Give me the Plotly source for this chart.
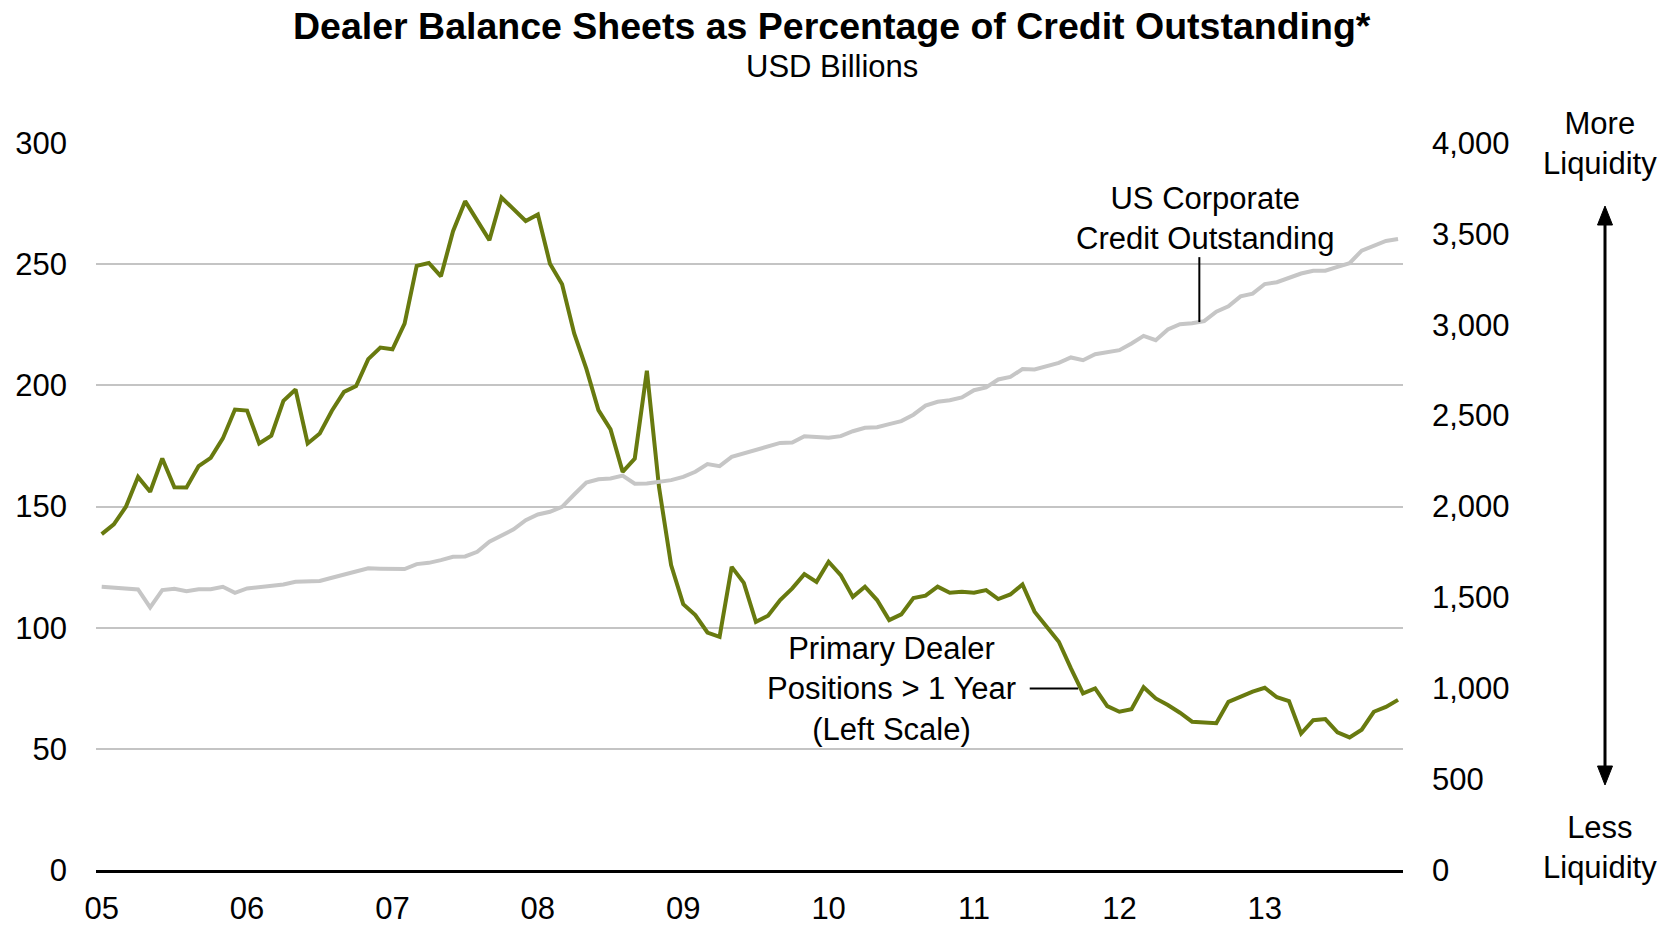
import pandas as pd
import plotly.graph_objects as go

# Monthly observations, Jan 2005 - Dec 2013
months = [d.strftime("%Y-%m") for d in pd.date_range("2005-01-01", "2013-12-01", freq="MS")]

# Primary dealer positions > 1 year (USD bn, left scale)
dealer_positions = [
    138.6, 142.6, 149.9, 162.2, 156.1, 169.8, 157.9, 157.8, 166.7, 170.1, 178.1, 190.0,
    189.6, 176.0, 179.2, 193.6, 198.3, 176.0, 180.1, 189.5, 197.3, 199.7, 210.8, 215.6,
    214.9, 225.5, 249.3, 250.5, 245.0, 263.6, 276.0, 268.1, 259.9, 277.5, 272.9, 267.8,
    270.5, 250.2, 241.7, 221.4, 206.9, 189.8, 181.8, 164.3, 169.8, 206.0, 158.0, 125.8,
    109.7, 105.2, 98.0, 96.2, 125.1, 118.5, 102.4, 104.9, 111.4, 116.2, 122.1, 118.9,
    127.2, 121.7, 112.7, 116.9, 111.4, 103.1, 105.5, 112.2, 113.2, 116.9, 114.4, 114.8,
    114.4, 115.5, 111.8, 113.7, 117.8, 106.6, 100.4, 94.2, 83.2, 72.9, 74.9, 67.6,
    65.3, 66.3, 75.4, 70.8, 68.1, 64.9, 61.2, 61.0, 60.6, 69.4, 71.6, 73.6,
    75.2, 71.3, 69.7, 56.3, 61.8, 62.3, 56.8, 54.7, 57.9, 65.3, 67.3, 70.2,
]

# US corporate credit outstanding (USD bn, right scale)
credit_outstanding = [
    1558, 1553, 1551, 1544, 1445, 1540, 1547, 1534, 1545, 1545, 1558, 1525,
    1549, 1555, 1564, 1571, 1586, 1586, 1590, 1608, 1626, 1641, 1660, 1658,
    1657, 1656, 1683, 1690, 1705, 1723, 1725, 1751, 1806, 1842, 1874, 1925,
    1956, 1971, 1998, 2066, 2132, 2150, 2154, 2170, 2125, 2127, 2136, 2145,
    2163, 2191, 2233, 2222, 2273, 2292, 2310, 2328, 2350, 2352, 2387, 2383,
    2378, 2387, 2414, 2433, 2436, 2453, 2470, 2505, 2555, 2576, 2585, 2600,
    2640, 2655, 2699, 2713, 2756, 2754, 2772, 2790, 2820, 2805, 2838, 2849,
    2860, 2897, 2939, 2915, 2974, 3003, 3008, 3020, 3072, 3101, 3156, 3171,
    3224, 3234, 3259, 3282, 3297, 3297, 3318, 3339, 3408, 3434, 3461, 3472,
]

year_ticks = [m for m in months if m.endswith("-01")]
year_labels = [m[2:4] for m in year_ticks]

left_ticks = [0, 50, 100, 150, 200, 250, 300]
right_ticks = [0, 500, 1000, 1500, 2000, 2500, 3000, 3500, 4000]

FONT = "Liberation Sans, Arial, Helvetica, sans-serif"
GREEN = "#687a0f"
GREY = "#c6c6c6"

# plot-area geometry (pixels) used to place the outside-the-axes labels
W, H = 1675, 927
L, R, T, B = 96, 272, 143, 57
PW, PH = W - L - R, H - T - B


def px(x):
    return (x - L) / PW


def py(y):
    return (H - B - y) / PH


def label(text, x, y, size=31, xref="paper", yref="paper"):
    return dict(text=text, xref=xref, yref=yref, x=x, y=y, showarrow=False,
                xanchor="center", yanchor="middle",
                font=dict(size=size, color="black"))


fig = go.Figure()
fig.add_trace(go.Scatter(
    x=months, y=credit_outstanding, yaxis="y2", mode="lines",
    line=dict(color=GREY, width=4), name="US Corporate Credit Outstanding",
))
fig.add_trace(go.Scatter(
    x=months, y=dealer_positions, mode="lines",
    line=dict(color=GREEN, width=4), name="Primary Dealer Positions > 1 Year",
))

annotations = [
    label("<b>Dealer Balance Sheets as Percentage of Credit Outstanding*</b>",
          px(832), py(26), size=37.5),
    label("USD Billions", px(832), py(67)),
    label("US Corporate<br>Credit Outstanding", 91.1, 268.9, xref="x", yref="y"),
    label("Primary Dealer<br>Positions > 1 Year<br>(Left Scale)", 65.15, 74.7,
          xref="x", yref="y"),
    label("More<br>Liquidity", px(1600), py(143)),
    label("Less<br>Liquidity", px(1600), py(847)),
]

ax = px(1605)
hw = 7.5 / PW
shapes = [
    # leader lines to each series
    dict(type="line", xref="x", yref="y", x0=90.6, x1=90.6, y0=252.9, y1=226.1,
         line=dict(color="black", width=2)),
    dict(type="line", xref="x", yref="y", x0=76.6, x1=80.6, y0=74.9, y1=74.9,
         line=dict(color="black", width=2)),
    # liquidity double arrow
    dict(type="line", xref="paper", yref="paper", x0=ax, x1=ax, y0=py(222), y1=py(769),
         line=dict(color="black", width=3)),
    dict(type="path", xref="paper", yref="paper",
         path=f"M {ax} {py(206)} L {ax - hw} {py(225)} L {ax + hw} {py(225)} Z",
         fillcolor="black", line=dict(color="black", width=1)),
    dict(type="path", xref="paper", yref="paper",
         path=f"M {ax} {py(785)} L {ax - hw} {py(766)} L {ax + hw} {py(766)} Z",
         fillcolor="black", line=dict(color="black", width=1)),
]

fig.update_layout(
    width=W, height=H,
    margin=dict(l=L, r=R, t=T, b=B, autoexpand=False),
    paper_bgcolor="white", plot_bgcolor="white",
    font=dict(family=FONT, size=31, color="black"),
    showlegend=False,
    annotations=annotations,
    shapes=shapes,
    xaxis=dict(
        type="category", range=[-0.47, 107.41], automargin=False,
        tickmode="array", tickvals=year_ticks, ticktext=year_labels,
        showgrid=False, zeroline=False,
        showline=True, linecolor="black", linewidth=3,
        ticks="", ticklabelstandoff=9,
        tickfont=dict(size=31, color="black"),
    ),
    yaxis=dict(
        range=[0, 300], tickmode="array", tickvals=left_ticks, automargin=False,
        showgrid=True, gridcolor="#c4c4c4", gridwidth=2,
        zeroline=False, showline=False, ticks="", ticklabelstandoff=28,
        tickfont=dict(size=31, color="black"),
    ),
    yaxis2=dict(
        range=[0, 4000], overlaying="y", side="right", automargin=False,
        tickmode="array", tickvals=right_ticks, tickformat=",d",
        showgrid=False, zeroline=False, showline=False, ticks="",
        ticklabelstandoff=28, tickfont=dict(size=31, color="black"),
    ),
)

fig.write_html("out.html")
